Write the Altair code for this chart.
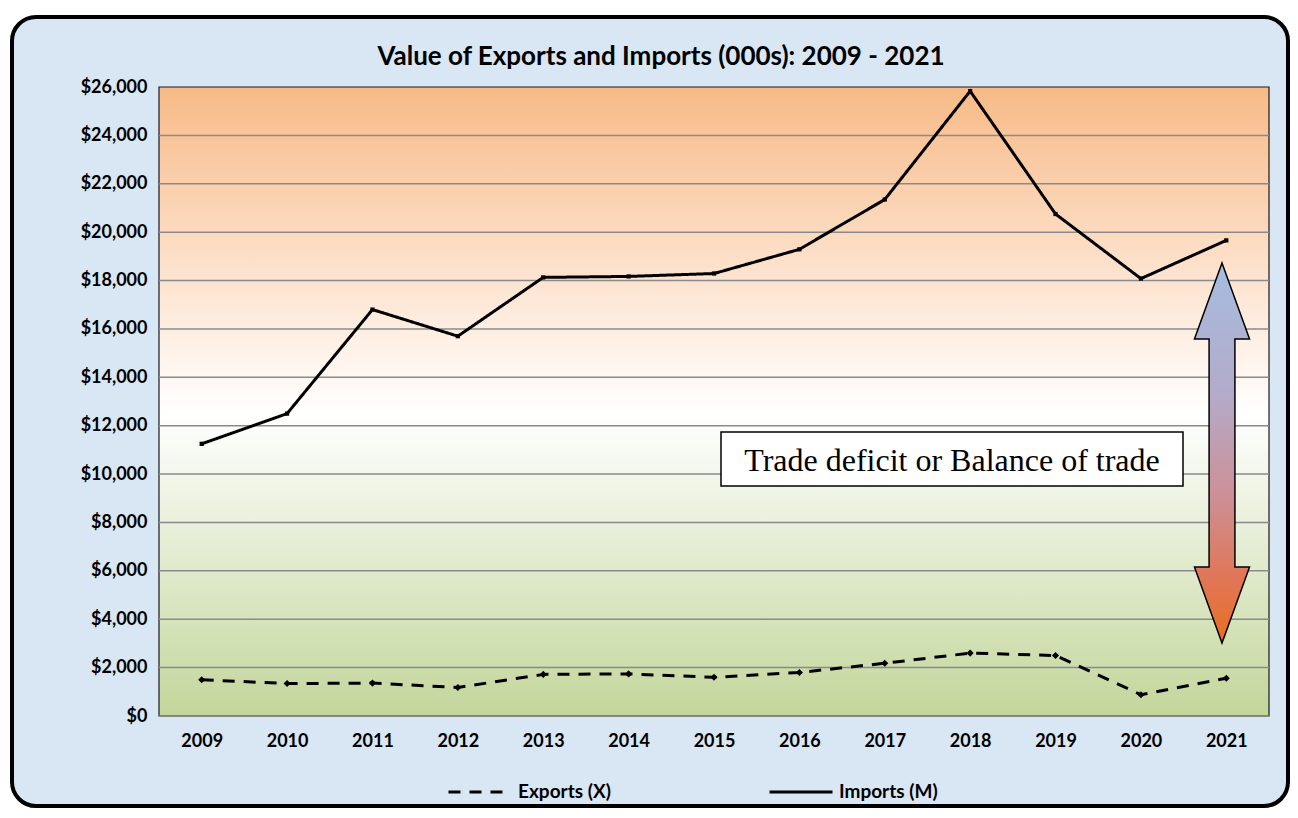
import altair as alt
import pandas as pd

# ---- data ----
years = ["2009", "2010", "2011", "2012", "2013", "2014", "2015",
         "2016", "2017", "2018", "2019", "2020", "2021"]
exports = [1500, 1340, 1360, 1180, 1720, 1740, 1600, 1800, 2180, 2600, 2500, 880, 1560]
imports = [11250, 12500, 16800, 15700, 18130, 18170, 18290, 19290, 21350, 25830, 20750, 18080, 19660]
series_names = ["Exports (X)", "Imports (M)"]
y_ticks = [0, 2000, 4000, 6000, 8000, 10000, 12000, 14000, 16000, 18000,
           20000, 22000, 24000, 26000]
title_text = "Value of Exports and Imports (000s): 2009 - 2021"
note_text = "Trade deficit or Balance of trade"

df = pd.DataFrame({
    "year": years + years,
    "value": exports + imports,
    "series": [series_names[0]] * len(years) + [series_names[1]] * len(years),
})
grid_df = pd.DataFrame({"value": y_ticks[:-1]})
one = pd.DataFrame({"k": [0]})

W, H = 1110, 629
FONT = "Lato"

x_enc = alt.X("year:O",
              scale=alt.Scale(type="point", padding=0.5),
              axis=alt.Axis(title=None, labelAngle=0, labelFont=FONT, labelFontSize=18,
                            labelFontWeight="bold", labelColor="black", labelPadding=16,
                            ticks=False, domain=False, grid=False, zindex=1))
y_axis = alt.Axis(title=None, values=y_ticks, format="$,.0f", grid=False, ticks=False,
                  domain=False, labelFont=FONT, labelFontSize=18, labelFontWeight="bold",
                  labelColor="black", labelPadding=12, zindex=1)
y_scale = alt.Scale(domain=[0, 26000], nice=False)
y_enc = alt.Y("value:Q", scale=y_scale, axis=y_axis)

frame = alt.Chart(one).mark_rect(
    fill="#d9e6f4", stroke="black", strokeWidth=4, cornerRadius=24
).encode(x=alt.value(-147), x2=alt.value(1129), y=alt.value(-70), y2=alt.value(719))

title = alt.Chart(one).mark_text(
    text=title_text, font=FONT, fontSize=26, fontWeight="bold", color="black",
    align="center", baseline="middle"
).encode(x=alt.value(502), y=alt.value(-30))

plot_fill = alt.Gradient(
    gradient="linear", x1=0, y1=0, x2=0, y2=1,
    stops=[alt.GradientStop(color="#f7ba87", offset=0),
           alt.GradientStop(color="#fde3cf", offset=0.3),
           alt.GradientStop(color="#ffffff", offset=0.52),
           alt.GradientStop(color="#e6eed6", offset=0.72),
           alt.GradientStop(color="#c3d69b", offset=1)])
plot_bg = alt.Chart(one).mark_rect(
    fill=plot_fill, stroke="#1a1a1a", strokeWidth=1.2
).encode(x=alt.value(0), x2=alt.value(W), y=alt.value(0), y2=alt.value(H))

grid = alt.Chart(grid_df).mark_rule(color="#8a8a8a", strokeWidth=1.5).encode(y=y_enc)

lines = alt.Chart(df).mark_line(color="black", strokeWidth=3).encode(
    x=x_enc, y=y_enc,
    strokeDash=alt.StrokeDash(
        "series:N",
        scale=alt.Scale(domain=series_names, range=[[12, 9], [1, 0]]),
        legend=alt.Legend(title=None, orient="none", legendX=288, legendY=672,
                          direction="horizontal", symbolType="stroke", symbolSize=3969,
                          symbolStrokeWidth=3, symbolStrokeColor="black",
                          labelFont=FONT, labelFontSize=19, labelFontWeight="bold",
                          labelColor="black", columnPadding=152, labelOffset=5,
                          padding=0, zindex=1)))

exp_pts = alt.Chart(df).transform_filter(
    alt.datum.series == series_names[0]
).mark_point(shape="diamond", filled=True, size=50, color="black", opacity=1).encode(
    x=x_enc, y=y_enc)
imp_pts = alt.Chart(df).transform_filter(
    alt.datum.series == series_names[1]
).mark_point(shape="square", filled=True, size=18, color="black", opacity=1).encode(
    x=x_enc, y=y_enc)

box = alt.Chart(one).mark_rect(fill="white", stroke="black", strokeWidth=1.5).encode(
    x=alt.value(562), x2=alt.value(1024), y=alt.value(345), y2=alt.value(399))
box_text = alt.Chart(one).mark_text(
    text=note_text, font="Liberation Serif", fontSize=32, color="black",
    align="center", baseline="middle"
).encode(x=alt.value(793), y=alt.value(374))

ARROW = ("M0,-1 L0.145,-0.6 L0.068,-0.6 L0.068,0.6 L0.145,0.6 L0,1 "
         "L-0.145,0.6 L-0.068,0.6 L-0.068,-0.6 L-0.145,-0.6 Z")
arrow_fill = alt.Gradient(
    gradient="linear", x1=0, y1=0, x2=0, y2=1,
    stops=[alt.GradientStop(color="#a6bde0", offset=0),
           alt.GradientStop(color="#b4aac9", offset=0.35),
           alt.GradientStop(color="#cc9199", offset=0.6),
           alt.GradientStop(color="#e0775a", offset=0.82),
           alt.GradientStop(color="#e86e22", offset=1)])
arrow = alt.Chart(one).mark_point(
    shape=ARROW, size=144400, filled=True, fill=arrow_fill, stroke="black",
    strokeWidth=1.5, opacity=1, fillOpacity=1
).encode(x=alt.value(1063), y=alt.value(366))

chart = alt.layer(
    frame, title, plot_bg, grid, lines, exp_pts, imp_pts, box, box_text, arrow
).properties(
    width=W, height=H,
    padding={"left": 151, "top": 79, "right": 21, "bottom": 92},
    autosize=alt.AutoSizeParams(type="none"),
).configure_view(stroke=None).configure(background="white")

chart.save("out.html", embed_options={"renderer": "svg", "actions": False})
